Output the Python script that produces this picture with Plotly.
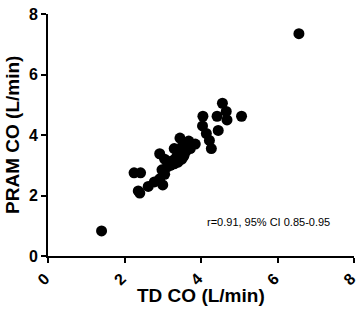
import plotly.graph_objects as go

# TD CO (L/min) vs PRAM CO (L/min)
td_co = [1.40, 2.25, 2.42, 2.36, 2.40, 2.62, 2.78, 2.92, 3.00, 2.98, 2.92, 3.05,
         3.12, 3.20, 3.25, 3.30, 3.35, 3.40, 3.30, 3.45, 3.50, 3.55, 3.60, 3.68,
         3.72, 3.85, 3.15, 3.40, 3.50, 4.05, 4.04, 4.14, 4.22, 4.27, 4.42, 4.45,
         4.56, 4.66, 4.68, 5.06, 6.56, 3.05, 3.60]
pram_co = [0.83, 2.75, 2.75, 2.15, 2.08, 2.30, 2.45, 2.55, 2.35, 2.85, 3.38, 2.70,
           2.95, 3.00, 3.15, 3.05, 3.25, 3.40, 3.55, 3.90, 3.60, 3.30, 3.45, 3.80,
           3.55, 3.70, 3.10, 3.10, 3.20, 4.62, 4.30, 4.05, 3.82, 3.55, 4.62, 4.15,
           5.05, 4.78, 4.50, 4.62, 7.35, 3.20, 3.70]

tick_vals = [0, 2, 4, 6, 8]
tick_text = ["0", "2", "4", "6", "8"]
x_title = "TD CO (L/min)"
y_title = "PRAM CO (L/min)"
stat_text = "r=0.91, 95% CI 0.85-0.95"

FONT = "Arial, Liberation Sans, Helvetica, sans-serif"

fig = go.Figure()
fig.add_trace(go.Scatter(
    x=td_co, y=pram_co, mode="markers",
    marker=dict(size=11, color="black", line=dict(width=0)),
    cliponaxis=False, showlegend=False,
))

axis_common = dict(
    range=[0, 8], tickvals=tick_vals, ticktext=tick_text,
    showline=True, linecolor="black", linewidth=2,
    ticks="outside", ticklen=5, tickwidth=2, tickcolor="black",
    showgrid=False, zeroline=False, automargin=False,
    ticklabeloverflow="allow",
    tickfont=dict(family=FONT, size=16, color="black", weight="bold"),
)

fig.update_xaxes(**axis_common, tickangle=-45, ticklabelshift=-3)
fig.update_yaxes(**axis_common)

fig.update_layout(
    width=358, height=317,
    margin=dict(l=48, r=4, t=14, b=61),
    paper_bgcolor="white", plot_bgcolor="white",
    font=dict(family=FONT, color="black"),
    annotations=[
        dict(text=f"<b>{x_title}</b>", xref="paper", yref="paper",
             x=0.5, y=-0.165, xanchor="center", yanchor="middle",
             showarrow=False, font=dict(size=19, family=FONT, color="black")),
        dict(text=f"<b>{y_title}</b>", xref="paper", yref="paper",
             x=-0.118, y=0.5, xanchor="center", yanchor="middle", textangle=-90,
             showarrow=False, font=dict(size=19, family=FONT, color="black")),
        dict(text=stat_text, xref="paper", yref="paper",
             x=0.722, y=0.14, xanchor="center", yanchor="middle",
             showarrow=False, font=dict(size=11, family=FONT, color="black")),
    ],
)

fig.write_html("out.html", config={"displayModeBar": False},
               post_script="document.body.style.margin='0';document.body.style.padding='0';")
